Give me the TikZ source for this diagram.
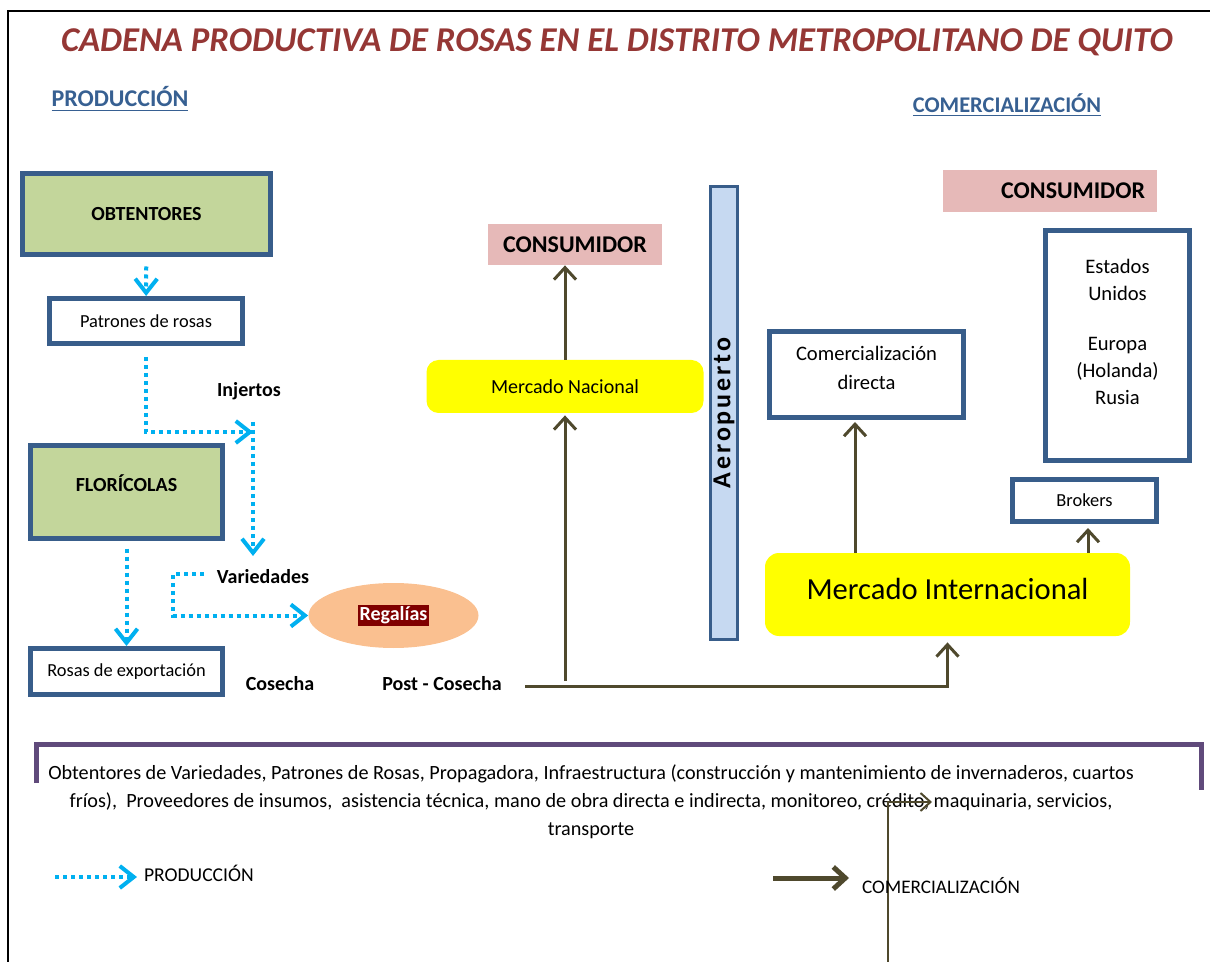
\documentclass[tikz,border=0pt]{standalone}
\usepackage{fontspec}
\setmainfont{Carlito}
\usetikzlibrary{arrows.meta, positioning, shapes.geometric, calc}
\definecolor{titlered}{RGB}{149,55,53}
\definecolor{headblue}{RGB}{55,96,146}
\definecolor{boxline}{RGB}{56,93,138}
\definecolor{leafgreen}{RGB}{195,214,155}
\definecolor{rosepink}{RGB}{230,185,184}
\definecolor{skyfill}{RGB}{198,217,241}
\definecolor{peach}{RGB}{250,192,144}
\definecolor{regbg}{RGB}{128,0,0}
\definecolor{dotblue}{RGB}{0,176,240}
\definecolor{comolive}{RGB}{79,73,45}
\definecolor{bandpurple}{RGB}{96,74,123}
\definecolor{marketyellow}{RGB}{255,255,0}
\newcommand{\sz}[2]{\fontsize{#1}{#2}\selectfont}

\begin{document}
\begin{tikzpicture}[x=0.5pt,y=-0.5pt,
    box/.style={draw=boxline,line width=2.5pt,fill=white,inner sep=0pt,font=\sz{9.2pt}{11pt}},
    greenbox/.style={box,fill=leafgreen,font=\bfseries\sz{10pt}{12pt},align=center},
    pinkbox/.style={fill=rosepink,inner sep=0pt,font=\bfseries\sz{12pt}{14pt}},
    yellowbox/.style={fill=marketyellow,rounded corners=6pt,inner sep=0pt,align=center},
    lbl/.style={font=\bfseries\sz{10pt}{12pt}},
    prod/.style={dotblue,line width=2pt,dash pattern=on 2pt off 2pt,-{Straight Barb[length=7pt,width=11pt]}},
    com/.style={comolive,line width=1.5pt,-{Straight Barb[length=6pt,width=11pt]}}]
  \useasboundingbox (0,0) rectangle (1210,962);
  % frame
  \draw[line width=1pt] (8,962) -- (8,11) -- (1210,11);
  % titles
  \node[font=\bfseries\itshape\sz{17.4pt}{20pt},text=titlered] (title) at (617,42) {CADENA PRODUCTIVA DE ROSAS EN EL DISTRITO METROPOLITANO DE QUITO};
  \node[font=\bfseries\sz{12pt}{14pt},text=headblue] (hprod) at (120,99) {\underline{PRODUCCIÓN}};
  \node[font=\bfseries\sz{11.2pt}{14pt},text=headblue] (hcom) at (1007,105) {\underline{COMERCIALIZACIÓN}};

  % production side
  \node[greenbox,minimum width=124pt,minimum height=40.5pt] (obt) at (146.5,214) {OBTENTORES};
  \node[box,minimum width=96.5pt,minimum height=22.5pt] (patr) at (146,321) {Patrones de rosas};
  \node[greenbox,minimum width=96pt,minimum height=46.5pt] (flor) at (126.5,492) {FLORÍCOLAS\\[-3pt]\mbox{}};
  \node[box,minimum width=96pt,minimum height=23pt] (rosas) at (126.5,671.5) {Rosas de exportación};
  \node[ellipse,fill=peach,minimum width=85pt,minimum height=32.5pt,inner sep=0pt] (reg) at (393.5,615.5)
    {\setlength{\fboxsep}{1pt}\colorbox{regbg}{\textcolor{white}{\bfseries\sz{10pt}{12pt}Regalías}}};
  \node[lbl] (inj) at (249,391) {Injertos};
  \node[lbl] (var) at (263,577) {Variedades};
  \node[lbl] (cos) at (280,684) {Cosecha};
  \node[lbl] (post) at (442,684) {Post - Cosecha};

  % commercialisation side
  \node[pinkbox,minimum width=87pt,minimum height=20.5pt] (cons1) at (575,244.5) {CONSUMIDOR};
  \node[yellowbox,minimum width=138.5pt,minimum height=26.5pt,font=\sz{10pt}{12pt}] (nac) at (565,386.5) {Mercado Nacional};
  \node[draw=boxline,line width=1.5pt,fill=skyfill,rotate=90,minimum width=226.5pt,minimum height=13.5pt,inner sep=0pt,
    font=\bfseries\sz{13pt}{14pt}\addfontfeature{LetterSpace=11}] (aero) at (724,413) {Aeropuerto};
  \node[box,minimum width=97pt,minimum height=43pt,font=\sz{10.3pt}{14.5pt},align=center] (cdir) at (866.5,374.5) {Comercialización\\directa\\[-7.5pt]\mbox{}};
  \node[pinkbox,minimum height=21pt,text width=95pt,inner xsep=6pt,align=right] (cons2) at (1050,191) {CONSUMIDOR};
  \node[box,minimum width=72pt,minimum height=115pt,font=\sz{10.3pt}{13.5pt},align=center] (paises) at (1117.5,345.5)
    {Estados\\Unidos\\[11.5pt]Europa\\(Holanda)\\Rusia\\\mbox{}};
  \node[box,minimum width=72pt,minimum height=21pt] (brok) at (1084.5,500.5) {Brokers};
  \node[yellowbox,rounded corners=7pt,minimum width=182.5pt,minimum height=41.5pt,font=\sz{15.3pt}{18pt}] (inter) at (947.5,594.5) {Mercado Internacional\\[-12pt]\mbox{}};

  % production flow
  \draw[prod,shorten <=4.75pt] (obt) -- (patr);
  \coordinate (injA) at (253,432);
  \coordinate (injtop) at (253,422);
  \coordinate (injbot) at (253,556);
  \draw[prod,shorten <=5.5pt] (patr) |- (injA);
  \draw[prod] (injtop) -- (injbot);
  \draw[prod,shorten <=3.75pt] (flor) -- (rosas);
  \coordinate (varA) at (204,574);
  \coordinate (varB) at (173,574);
  \draw[prod] (varA) -- (varB) |- (reg);

  % commercial flow
  \coordinate (pcA) at (525,686);
  \coordinate (nacA) at (565,681);
  \coordinate (cdirx) at (855,0);
  \coordinate (brokx) at (1088,0);
  \draw[com,shorten >=3pt] (pcA) -| (inter);
  \draw[com,shorten >=1pt] (nacA) -- (nac);
  \draw[com] (nac) -- (nac.north |- cons1.south);
  \draw[com,shorten >=1pt] (cdirx |- inter.north) -- (cdirx |- cdir.south);
  \draw[com,shorten >=2pt] (brokx |- inter.north) -- (brokx |- brok.south);

  % actors band
  \draw[bandpurple,line width=2.5pt] (36,783) -- (36,744) -- (1201,744) -- (1201,790);
  \node[font=\sz{10.1pt}{14pt},align=center] (actores) at (591,802)
    {Obtentores de Variedades, Patrones de Rosas, Propagadora, Infraestructura (construcción y mantenimiento de invernaderos, cuartos\\
     fríos),\ \ Proveedores de insumos,\ \ asistencia técnica, mano de obra directa e indirecta, monitoreo, crédito, maquinaria, servicios,\\
     transporte};
  \coordinate (strayA) at (888,962);
  \coordinate (strayB) at (932,802);
  \draw[comolive,line width=1pt,-{Straight Barb[length=5pt,width=9pt]}] (strayA) |- (strayB);

  % legend
  \node[font=\sz{9.8pt}{12pt},anchor=west] (legprod) at (137,873) {PRODUCCIÓN};
  \coordinate (legprodA) at (55,877);
  \draw[prod] (legprodA) -- (legprodA -| legprod.west);
  \node[font=\sz{9.6pt}{12pt},anchor=west] (legcom) at (855,886) {COMERCIALIZACIÓN};
  \coordinate (legcomA) at (773,878);
  \draw[comolive,line width=2.5pt,-{Straight Barb[length=6pt,width=11pt]},shorten >=3pt] (legcomA) -- (legcomA -| legcom.west);
\end{tikzpicture}
\end{document}
